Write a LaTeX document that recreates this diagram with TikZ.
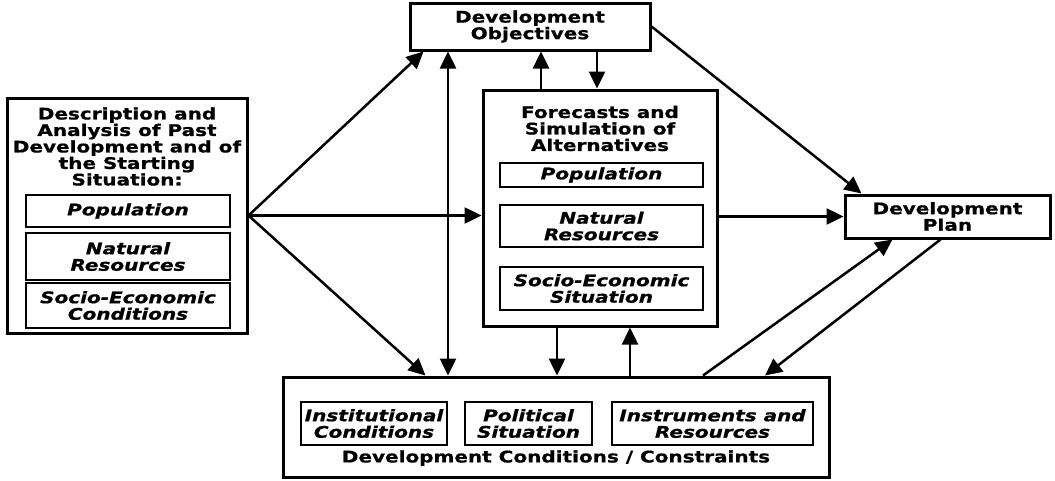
\documentclass[tikz,border=0pt]{standalone}
\usepackage{fontspec}
\setmainfont[FakeStretch=1.25,
  BoldFeatures={FakeBold=0.8},
  BoldItalicFeatures={FakeBold=0.8}]{DejaVu Sans}
\usetikzlibrary{arrows.meta}

\tikzset{
  outer/.style={draw, line width=3pt, inner sep=0pt},
  inner/.style={draw, line width=2.5pt, inner sep=0pt, align=center,
    font=\bfseries\itshape\fontsize{16}{16.5}\selectfont},
  txt/.style={align=center, inner sep=0pt,
    font=\bfseries\fontsize{16}{16.5}\selectfont},
  arr/.style={line width=2.5pt, -{Triangle[length=17pt,width=16pt]}},
  darr/.style={line width=2.5pt,
    {Triangle[length=17pt,width=16pt]}-{Triangle[length=17pt,width=16pt]}},
}

\begin{document}
\begin{tikzpicture}[x=1pt,y=-1pt]
    \useasboundingbox (0,0) rectangle (1055,480);
    % past development
    \node[outer, minimum width=240, minimum height=235] (desc) at (127,215.5) {};
    \node[txt] (desctitle) at (127,146.5) {Description and\\Analysis of Past\\Development and of\\the Starting\\Situation:};
    \node[inner, minimum width=204, minimum height=32] (descpop) at (128,211) {Population};
    \node[inner, minimum width=204, minimum height=47] (descnat) at (128,256.5) {Natural\\Resources};
    \node[inner, minimum width=204, minimum height=45] (descsoc) at (128,305.5) {Socio-Economic\\Conditions};
    % objectives
    \node[outer, txt, minimum width=240, minimum height=47] (obj) at (530,26.5) {Development\\Objectives};
    % forecasts
    \node[outer, minimum width=234, minimum height=236] (fore) at (600,208) {};
    \node[txt] (foretitle) at (600,128.5) {Forecasts and\\Simulation of\\Alternatives};
    \node[inner, minimum width=203, minimum height=24] (forepop) at (601.5,175) {Population};
    \node[inner, minimum width=203, minimum height=42] (forenat) at (601.5,226) {Natural\\Resources};
    \node[inner, minimum width=203, minimum height=43] (foresoc) at (601.5,288.5) {Socio-Economic\\Situation};
    % plan
    \node[outer, txt, minimum width=205, minimum height=43] (plan) at (947.5,216.5) {Development\\Plan};
    % conditions
    \node[outer, minimum width=546, minimum height=100] (cond) at (556,427) {};
    \node[inner, minimum width=146, minimum height=43] (condinst) at (374,423.5) {Institutional\\Conditions};
    \node[inner, minimum width=127, minimum height=43] (condpol) at (528.5,423.5) {Political\\Situation};
    \node[inner, minimum width=201, minimum height=43] (condres) at (712.5,423.5) {Instruments and\\Resources};
    \node[txt] (condtitle) at (556,458) {Development Conditions / Constraints};

    \draw[arr] (desc.east) -- ([xshift=15pt]obj.south west);
    \draw[arr] (desc.east) -- (desc.east -| fore.west);
    \draw[arr] (desc.east) -- ([xshift=144pt]cond.north west);
    \draw[darr] ([xshift=-82pt]obj.south) -- ([xshift=-82pt]obj.south |- cond.north);
    \draw[arr] ([xshift=-59pt]fore.north) -- ([xshift=-59pt]fore.north |- obj.south);
    \draw[arr] ([xshift=-3pt]fore.north |- obj.south) -- ([xshift=-3pt]fore.north);
    \draw[arr] (obj.east) -- ([xshift=18pt]plan.north west);
    \draw[arr] (plan.west -| fore.east) -- (plan.west);
    \draw[arr] ([xshift=-43pt]fore.south) -- ([xshift=-43pt]fore.south |- cond.north);
    \draw[arr] ([xshift=30pt]fore.south |- cond.north) -- ([xshift=30pt]fore.south);
    \draw[arr] ([xshift=147pt]cond.north) -- ([xshift=-55pt]plan.south);
    \draw[arr] ([xshift=-7pt]plan.south) -- ([xshift=209pt]cond.north);
  \end{tikzpicture}
\end{document}
